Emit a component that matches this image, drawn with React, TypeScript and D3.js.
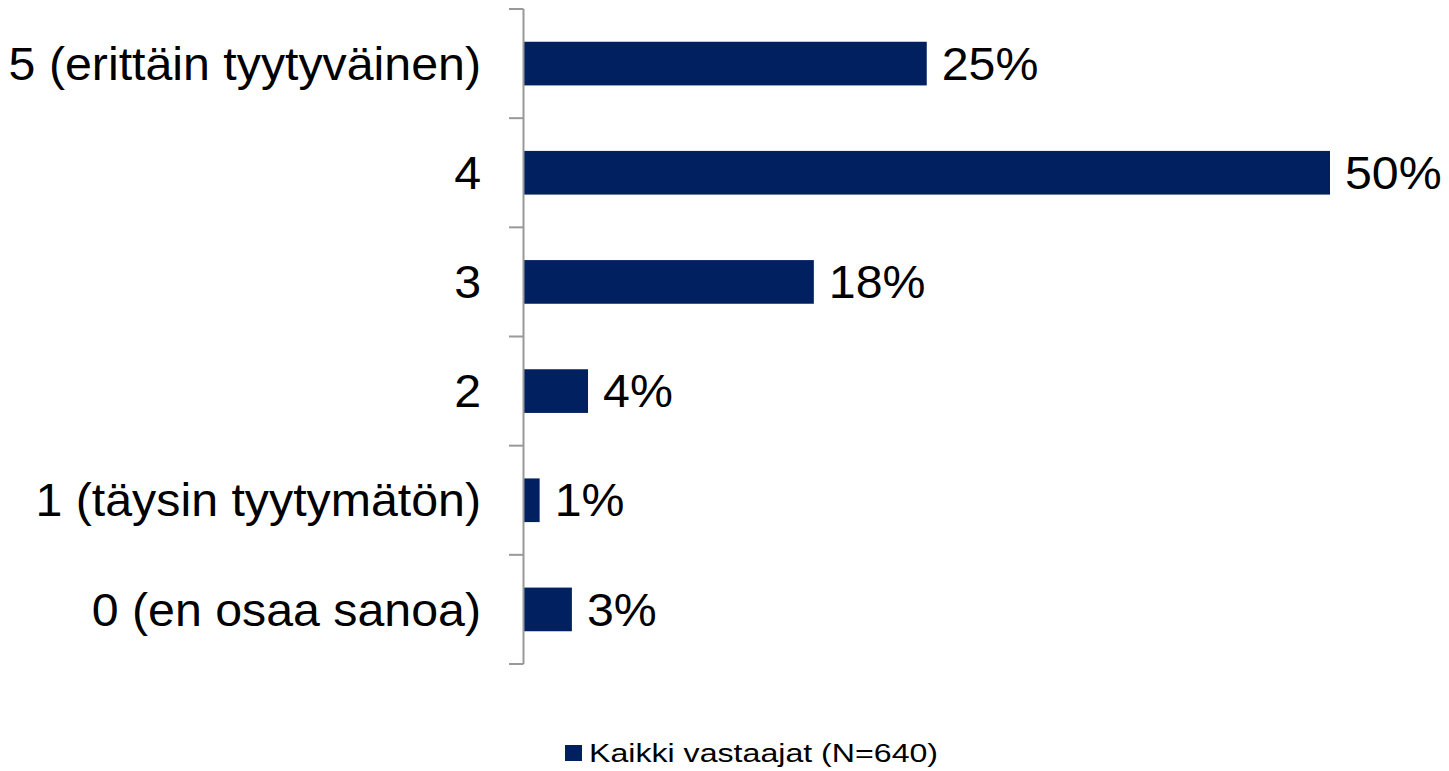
import React, { useEffect, useRef } from "react";
import * as d3 from "d3";

const categories = [
  "5 (erittäin tyytyväinen)",
  "4",
  "3",
  "2",
  "1 (täysin tyytymätön)",
  "0 (en osaa sanoa)",
];
const values = [25, 50, 18, 4, 1, 3];
const seriesName = "Kaikki vastaajat (N=640)";

const W = 1449;
const H = 771;
const BAR = "#002060";
const FONT = "Arial, 'Liberation Sans', sans-serif";
const SX = 1.05;

export default function App() {
  const ref = useRef<SVGSVGElement>(null);
  useEffect(() => {
    const svg = d3.select(ref.current);
    svg.selectAll("*").remove();
    const x0 = 523.5;
    const x = d3.scaleLinear().domain([0, 50]).range([x0, 1330]);
    const y = d3
      .scaleBand<string>()
      .domain(categories)
      .range([9, 664])
      .paddingInner(0.6)
      .paddingOuter(0.3);
    const step = (664 - 9) / categories.length;

    // bars
    svg
      .selectAll("rect.bar")
      .data(values)
      .enter()
      .append("rect")
      .attr("class", "bar")
      .attr("x", x0)
      .attr("y", (_, i) => y(categories[i])!)
      .attr("width", (d) => x(d) - x0)
      .attr("height", y.bandwidth())
      .attr("fill", BAR);

    // axis line + ticks
    svg
      .append("line")
      .attr("x1", x0)
      .attr("x2", x0)
      .attr("y1", 9)
      .attr("y2", 664)
      .attr("stroke", "#999")
      .attr("stroke-width", 2);
    d3.range(categories.length + 1).forEach((i) => {
      const yy = 9 + i * step;
      svg
        .append("line")
        .attr("x1", 509)
        .attr("x2", x0)
        .attr("y1", yy)
        .attr("y2", yy)
        .attr("stroke", "#999")
        .attr("stroke-width", 2);
    });

    // category labels
    svg
      .selectAll("text.cat")
      .data(categories)
      .enter()
      .append("text")
      .attr("class", "cat")
      .attr(
        "transform",
        (d) => `translate(481,${y(d)! + y.bandwidth() / 2}) scale(${SX},1)`
      )
      .attr("dy", "0.35em")
      .attr("text-anchor", "end")
      .attr("font-family", FONT)
      .attr("font-size", 46)
      .attr("fill", "#000")
      .text((d) => d);

    // value labels
    svg
      .selectAll("text.val")
      .data(values)
      .enter()
      .append("text")
      .attr("class", "val")
      .attr(
        "transform",
        (d, i) =>
          `translate(${x(d) + 15},${y(categories[i])! + y.bandwidth() / 2}) scale(${SX},1)`
      )
      .attr("dy", "0.35em")
      .attr("font-family", FONT)
      .attr("font-size", 46)
      .attr("fill", "#000")
      .text((d) => d + "%");

    // legend
    svg
      .append("rect")
      .attr("x", 565)
      .attr("y", 745)
      .attr("width", 17)
      .attr("height", 16)
      .attr("fill", BAR);
    svg
      .append("text")
      .attr("transform", "translate(589,762) scale(1.26,1)")
      .attr("font-family", FONT)
      .attr("font-size", 25.5)
      .attr("fill", "#000")
      .text(seriesName);
  }, []);

  return (
    <div style={{ position: "absolute", left: 0, top: 0 }}>
      <svg ref={ref} width={W} height={H} style={{ display: "block", background: "#fff" }} />
    </div>
  );
}
